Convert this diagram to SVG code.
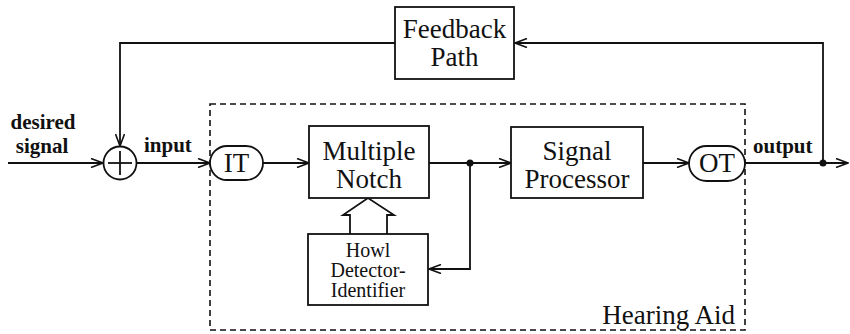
<svg xmlns="http://www.w3.org/2000/svg" width="850" height="334" viewBox="0 0 850 334">
  <defs>
    <style>
      .box { fill: #fff; stroke: #111; stroke-width: 1.8; }
      .wire { fill: none; stroke: #111; stroke-width: 1.8; }
      .dash { fill: none; stroke: #111; stroke-width: 1.6; stroke-dasharray: 6 4; }
      text { font-family: 'Liberation Serif', 'DejaVu Serif', serif; fill: #111; }
      .big { font-size: 27px; text-anchor: middle; }
      .mid { font-size: 27px; text-anchor: middle; }
      .small { font-size: 20px; text-anchor: middle; }
      .lbl { font-size: 21px; font-weight: bold; }
    </style>
    <marker id="arrow" viewBox="0 0 14 10" refX="13" refY="5" markerWidth="14" markerHeight="10" markerUnits="userSpaceOnUse" orient="auto">
      <path d="M1,0.5 L13,5 L1,9.5" fill="none" stroke="#111" stroke-width="1.6"/>
    </marker>
  </defs>

  <rect width="850" height="334" fill="#fff"/>

  <!-- Hearing aid boundary -->
  <g id="hearing-aid">
    <rect class="dash" x="210" y="104" width="535" height="226"/>
    <text class="big" x="735" y="324" style="text-anchor:end" font-size="28">Hearing Aid</text>
  </g>

  <!-- Connectors -->
  <g id="connectors">
    <line class="wire" x1="8" y1="163" x2="103" y2="163" marker-end="url(#arrow)"/>
    <line class="wire" x1="136" y1="163" x2="210" y2="163" marker-end="url(#arrow)"/>
    <line class="wire" x1="263" y1="163" x2="309" y2="163" marker-end="url(#arrow)"/>
    <line class="wire" x1="429" y1="163" x2="511" y2="163" marker-end="url(#arrow)"/>
    <path class="wire" d="M470,163 V269 H429" marker-end="url(#arrow)"/>
    <line class="wire" x1="643" y1="163" x2="689" y2="163" marker-end="url(#arrow)"/>
    <line class="wire" x1="745" y1="163" x2="848" y2="163" marker-end="url(#arrow)"/>
    <path class="wire" d="M823,163 V43 H515" marker-end="url(#arrow)"/>
    <path class="wire" d="M395,43 H120 V146" marker-end="url(#arrow)"/>
    <circle cx="470" cy="163" r="3.5" fill="#111"/>
    <circle cx="823" cy="163" r="3.5" fill="#111"/>
    <!-- block arrow from detector up to the notch filter -->
    <path class="wire" d="M350,234 V215 H343 L368,198 L394,215 H387 V234"/>
  </g>

  <!-- Signal labels -->
  <g id="labels">
    <text class="lbl" x="43" y="129" text-anchor="middle">desired</text>
    <text class="lbl" x="42" y="153" text-anchor="middle">signal</text>
    <text class="lbl" x="144" y="152">input</text>
    <text class="lbl" x="753" y="153">output</text>
  </g>

  <g id="sum">
    <circle class="box" cx="120" cy="163" r="16.5"/>
    <line class="wire" x1="108" y1="163" x2="132" y2="163"/>
    <line class="wire" x1="120" y1="151" x2="120" y2="175"/>
  </g>

  <g id="feedback-path">
    <rect class="box" x="395" y="7" width="119" height="72"/>
    <text class="big" x="454.5" y="38">Feedback</text>
    <text class="big" x="454.5" y="66">Path</text>
  </g>

  <g id="it">
    <rect class="box" x="210" y="146" width="53" height="34" rx="17"/>
    <text class="mid" x="236.5" y="172">IT</text>
  </g>

  <g id="multiple-notch">
    <rect class="box" x="309" y="126" width="120" height="72"/>
    <text class="big" x="369" y="160">Multiple</text>
    <text class="big" x="369" y="188">Notch</text>
  </g>

  <g id="howl-detector">
    <rect class="box" x="308" y="234" width="120" height="71"/>
    <text class="small" x="368" y="257">Howl</text>
    <text class="small" x="368" y="277">Detector-</text>
    <text class="small" x="368" y="297">Identifier</text>
  </g>

  <g id="signal-processor">
    <rect class="box" x="511" y="127" width="132" height="71"/>
    <text class="big" x="577" y="160">Signal</text>
    <text class="big" x="577" y="188">Processor</text>
  </g>

  <g id="ot">
    <rect class="box" x="689" y="146" width="56" height="35" rx="17.5"/>
    <text class="mid" x="717" y="172">OT</text>
  </g>
</svg>
